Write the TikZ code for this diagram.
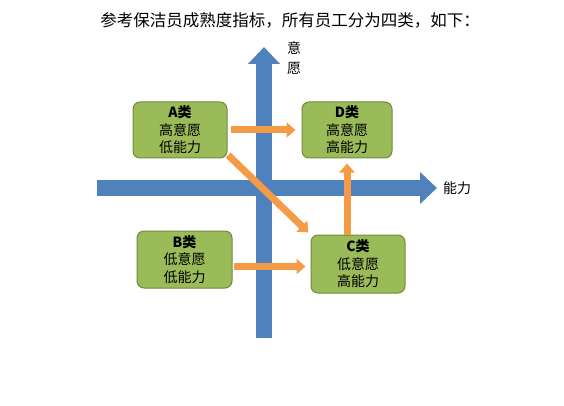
\documentclass[tikz,border=0pt]{standalone}
\usepackage{fontspec}
\setmainfont{Noto Sans CJK SC}
\usepackage{xcolor}
\usetikzlibrary{arrows.meta}

\definecolor{axisblue}{HTML}{4F81BD}
\definecolor{boxgreen}{HTML}{9BBB59}
\definecolor{boxedge}{HTML}{6F8A3C}
\definecolor{moveorange}{HTML}{F59A45}

\begin{document}
\begin{tikzpicture}[
    x=1pt, y=-1pt,
    quad/.style={
        draw=boxedge,
        fill=boxgreen,
        rounded corners=7pt,
        line width=1pt,
        align=center,
        minimum width=94pt,
        minimum height=56pt,
        inner sep=0pt,
        font=\fontsize{14}{17.5}\selectfont
    },
    axislabel/.style={align=center, inner sep=0pt, font=\fontsize{14}{20}\selectfont},
    axis/.style={draw=axisblue, line width=16pt, -{Triangle[length=17pt,width=31pt]}},
    move/.style={draw=moveorange, line width=7pt, -{Triangle[length=9pt,width=15pt]}}
]
\useasboundingbox (0,0) rectangle (564,406);

\node (title) at (290,20) {\fontsize{16.5}{18}\selectfont 参考保洁员成熟度指标，所有员工分为四类，如下：};

% axes
\coordinate (vlow) at (264,338);
\coordinate (vtop) at (264,47);
\coordinate (hleft) at (97,188);
\coordinate (hright) at (437,188);
\draw[axis] (vlow) -- (vtop);
\draw[axis] (hleft) -- (hright);
\node[axislabel] (wish) at (294,58) {意\\愿};
\node[axislabel] (ability) at (457,188) {能力};

% quadrants
\node[quad] (A) at (180,130) {{\bfseries A类}\\高意愿\\低能力};
\node[quad, minimum width=90pt] (D) at (347,130) {{\bfseries D类}\\高意愿\\高能力};
\node[quad, minimum width=95pt, minimum height=57pt] (B) at (184.5,259.5) {{\bfseries B类}\\低意愿\\低能力};
\node[quad, minimum height=58pt] (C) at (358,264) {{\bfseries C类}\\低意愿\\高能力};

\draw[move, shorten <=3pt, shorten >=6pt] (A.east) -- (D.west);
\draw[move, shorten <=1pt, shorten >=5pt] ([yshift=-7pt]B.east) -- ([yshift=-7pt]B.east -| C.west);
\draw[move, shorten <=1pt, shorten >=3pt] ([yshift=4pt]A.south east) -- (C.north west);
\draw[move, shorten >=5pt] (C.north -| D.south) -- (D.south);
\end{tikzpicture}
\end{document}
